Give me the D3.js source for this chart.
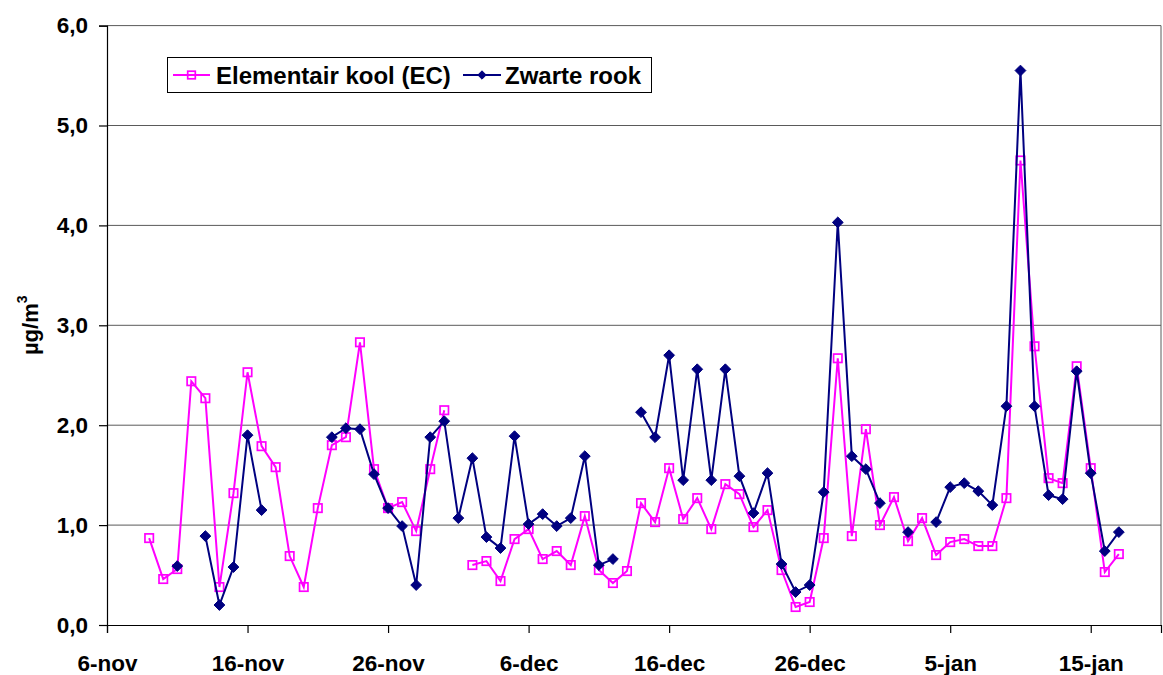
<!DOCTYPE html>
<html lang="nl">
<head>
    <meta charset="UTF-8">
    <title>Elementair kool en zwarte rook</title>
    <style>
        body {
            margin: 0;
            background: #fff;
        }
        svg text {
            font-family: "Liberation Sans", Arial, sans-serif;
            font-weight: bold;
            fill: #000;
        }
    </style>
    <script src="https://d3js.org/d3.v7.min.js"></script>
</head>
<body>
    <svg width="1163" height="675"></svg>
    <script>
        // meetdagen 9-nov t/m 17-jan
        const dates = [
            "2000-11-09", "2000-11-10", "2000-11-11", "2000-11-12", "2000-11-13", "2000-11-14", "2000-11-15", "2000-11-16", "2000-11-17", "2000-11-18",
            "2000-11-19", "2000-11-20", "2000-11-21", "2000-11-22", "2000-11-23", "2000-11-24", "2000-11-25", "2000-11-26", "2000-11-27", "2000-11-28",
            "2000-11-29", "2000-11-30", "2000-12-01", "2000-12-02", "2000-12-03", "2000-12-04", "2000-12-05", "2000-12-06", "2000-12-07", "2000-12-08",
            "2000-12-09", "2000-12-10", "2000-12-11", "2000-12-12", "2000-12-13", "2000-12-14", "2000-12-15", "2000-12-16", "2000-12-17", "2000-12-18",
            "2000-12-19", "2000-12-20", "2000-12-21", "2000-12-22", "2000-12-23", "2000-12-24", "2000-12-25", "2000-12-26", "2000-12-27", "2000-12-28",
            "2000-12-29", "2000-12-30", "2000-12-31", "2001-01-01", "2001-01-02", "2001-01-03", "2001-01-04", "2001-01-05", "2001-01-06", "2001-01-07",
            "2001-01-08", "2001-01-09", "2001-01-10", "2001-01-11", "2001-01-12", "2001-01-13", "2001-01-14", "2001-01-15", "2001-01-16", "2001-01-17"
        ];

        // Elementair kool (EC), µg/m3
        const ecValues = [
            0.87, 0.46, 0.56, 2.44, 2.27, 0.38, 1.32, 2.53, 1.79, 1.58,
            0.69, 0.38, 1.17, 1.80, 1.88, 2.83, 1.56, 1.17, 1.23, 0.94,
            1.56, 2.15, null, 0.60, 0.64, 0.44, 0.86, 0.96, 0.66, 0.74,
            0.60, 1.09, 0.55, 0.42, 0.54, 1.22, 1.03, 1.57, 1.06, 1.27,
            0.96, 1.41, 1.31, 0.98, 1.15, 0.55, 0.18, 0.23, 0.87, 2.67,
            0.89, 1.96, 1.00, 1.28, 0.84, 1.07, 0.70, 0.83, 0.86, 0.79,
            0.79, 1.27, 4.65, 2.79, 1.47, 1.42, 2.59, 1.57, 0.53, 0.71
        ];

        // Zwarte rook, µg/m3
        const zrValues = [
            null, null, 0.59, null, 0.89, 0.20, 0.58, 1.90, 1.15, null,
            null, null, null, 1.88, 1.97, 1.96, 1.51, 1.17, 0.99, 0.40,
            1.88, 2.04, 1.07, 1.67, 0.88, 0.77, 1.89, 1.01, 1.11, 0.99,
            1.07, 1.69, 0.60, 0.66, null, 2.13, 1.88, 2.70, 1.45, 2.56,
            1.45, 2.56, 1.49, 1.12, 1.52, 0.61, 0.33, 0.40, 1.33, 4.03,
            1.69, 1.56, 1.22, null, 0.93, null, 1.03, 1.38, 1.42, 1.34,
            1.20, 2.19, 5.55, 2.19, 1.30, 1.26, 2.54, 1.52, 0.74, 0.93
        ];

        const tickDates = ["2000-11-06", "2000-11-16", "2000-11-26", "2000-12-06", "2000-12-16", "2000-12-26", "2001-01-05", "2001-01-15"];
        const tickLabels = ["6-nov", "16-nov", "26-nov", "6-dec", "16-dec", "26-dec", "5-jan", "15-jan"];
        const yTicks = [0, 1, 2, 3, 4, 5, 6];

        const seriesNames = ["Elementair kool (EC)", "Zwarte rook"];
        const pink = "#ff00ff";
        const navy = "#000080";

        const parse = d3.utcParse("%Y-%m-%d");
        const days = dates.map(parse);

        const svg = d3.select("svg");
        const plotLeft = 107, plotRight = 1161, plotTop = 25.6, plotBottom = 625;

        const x = d3.scaleUtc()
            .domain([parse("2000-11-06"), parse("2001-01-20")])
            .range([plotLeft, plotRight]);
        const y = d3.scaleLinear()
            .domain([0, 6])
            .range([plotBottom, plotTop]);

        // gridlines
        svg.append("g")
            .selectAll("line")
            .data(yTicks.filter(d => d > 0))
            .enter().append("line")
            .attr("x1", plotLeft)
            .attr("x2", plotRight)
            .attr("y1", d => y(d))
            .attr("y2", d => y(d))
            .attr("stroke", "#5a5a5a")
            .attr("stroke-width", 1);

        // right border of plot area
        svg.append("line")
            .attr("x1", plotRight).attr("x2", plotRight)
            .attr("y1", plotTop).attr("y2", plotBottom)
            .attr("stroke", "#5a5a5a");

        const fmt = d3.format(".1f");
        const yAxis = svg.append("g")
            .attr("transform", `translate(${plotLeft},0)`)
            .call(d3.axisLeft(y)
                .tickValues(yTicks)
                .tickSize(8)
                .tickPadding(11)
                .tickFormat(d => fmt(d).replace(".", ",")));

        const xAxis = svg.append("g")
            .attr("transform", `translate(0,${plotBottom})`)
            .call(d3.axisBottom(x)
                .tickValues(tickDates.map(parse))
                .tickSize(8)
                .tickPadding(22)
                .tickFormat((d, i) => tickLabels[i]));

        [xAxis, yAxis].forEach(ax => {
            ax.select(".domain").attr("stroke", "#000").attr("stroke-width", 1.2);
            ax.selectAll(".tick line").attr("stroke", "#000").attr("stroke-width", 1.2);
            ax.selectAll("text")
                .attr("font-family", "'Liberation Sans', Arial, sans-serif")
                .attr("font-weight", "bold")
                .attr("font-size", 22.5)
                .attr("fill", "#000");
        });

        // y-as titel
        const ylab = svg.append("text")
            .attr("transform", `translate(38,${(plotTop + plotBottom) / 2}) rotate(-90)`)
            .attr("text-anchor", "middle")
            .attr("font-size", 22);
        ylab.append("tspan").text("µg/m");
        ylab.append("tspan").attr("font-size", 14).attr("dy", -11).text("3");

        function diamond(g, s) {
            return g.append("path")
                .attr("d", `M0,${-s}L${s},0L0,${s}L${-s},0Z`)
                .attr("fill", navy)
                .attr("stroke", navy)
                .attr("stroke-width", 1);
        }
        function square(g, s) {
            return g.append("rect")
                .attr("x", -s).attr("y", -s)
                .attr("width", 2 * s).attr("height", 2 * s)
                .attr("fill", "none")
                .attr("stroke", pink)
                .attr("stroke-width", 1.7);
        }

        const line = d3.line()
            .defined(d => d.v != null)
            .x(d => x(d.t))
            .y(d => y(d.v));

        const ecData = days.map((t, i) => ({ t: t, v: ecValues[i] }));
        const zrData = days.map((t, i) => ({ t: t, v: zrValues[i] }));

        // EC
        svg.append("path")
            .datum(ecData)
            .attr("fill", "none")
            .attr("stroke", pink)
            .attr("stroke-width", 2)
            .attr("d", line);
        svg.append("g")
            .selectAll("g")
            .data(ecData.filter(d => d.v != null))
            .enter().append("g")
            .attr("transform", d => `translate(${x(d.t)},${y(d.v)})`)
            .each(function () { square(d3.select(this), 4.2); });

        // Zwarte rook
        svg.append("path")
            .datum(zrData)
            .attr("fill", "none")
            .attr("stroke", navy)
            .attr("stroke-width", 2)
            .attr("d", line);
        svg.append("g")
            .selectAll("g")
            .data(zrData.filter(d => d.v != null))
            .enter().append("g")
            .attr("transform", d => `translate(${x(d.t)},${y(d.v)})`)
            .each(function () { diamond(d3.select(this), 5.4); });

        // legenda
        const legend = svg.append("g");
        legend.append("rect")
            .attr("x", 167.5).attr("y", 57.5)
            .attr("width", 484).attr("height", 35)
            .attr("fill", "#fff")
            .attr("stroke", "#000")
            .attr("stroke-width", 1);

        const items = [
            { x0: 173, x1: 210, tx: 216, color: pink, mark: square, size: 3.8 },
            { x0: 463, x1: 501, tx: 505, color: navy, mark: diamond, size: 4.2 }
        ];
        items.forEach((it, i) => {
            legend.append("line")
                .attr("x1", it.x0).attr("x2", it.x1)
                .attr("y1", 75).attr("y2", 75)
                .attr("stroke", it.color)
                .attr("stroke-width", 2);
            const m = legend.append("g").attr("transform", `translate(${(it.x0 + it.x1) / 2},75)`);
            it.mark(m, it.size);
            legend.append("text")
                .attr("x", it.tx)
                .attr("y", 84)
                .attr("font-size", 24)
                .text(seriesNames[i]);
        });
    </script>
</body>
</html>
